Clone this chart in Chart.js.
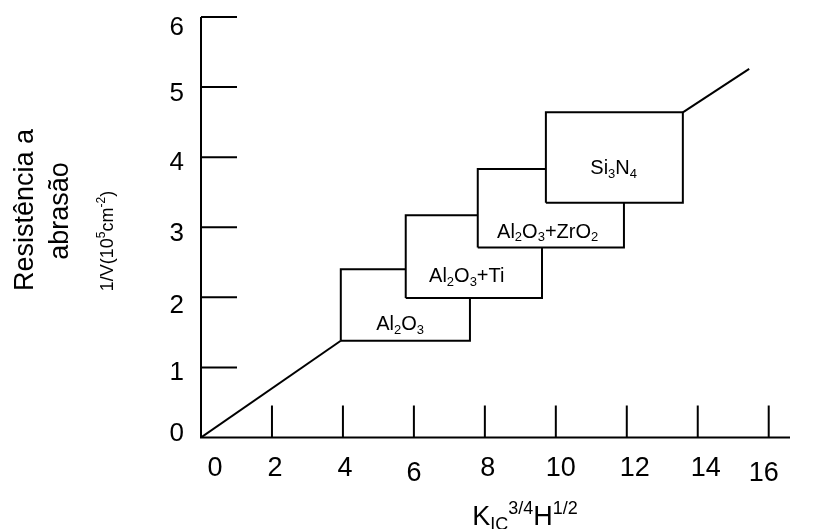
<!DOCTYPE html>
<html lang="pt">
<head>
<meta charset="UTF-8">
<title>Resistência a abrasão</title>
<script src="https://cdn.jsdelivr.net/npm/chart.js"></script>
<style>
  body { margin: 0; background: #fff; }
  .wrap { width: 821px; height: 529px; position: relative; }
</style>
</head>
<body>
<div class="wrap"><canvas id="chart"></canvas></div>
<script>
// --- dados ---
const xTicks = [0, 2, 4, 6, 8, 10, 12, 14, 16];
const yTicks = [0, 1, 2, 3, 4, 5, 6];

// linha de tendência (origem -> Al2O3, Si3N4 -> fim)
const lineLow = [{ x: 0, y: 0 }, { x: 3.94, y: 1.38 }];
const lineHigh = [{ x: 13.58, y: 4.64 }, { x: 15.45, y: 5.26 }];

// caixas dos materiais: [x0, x1, y0, y1]
const materials = ['Al2O3', 'Al2O3+Ti', 'Al2O3+ZrO2', 'Si3N4'];
const boxX0 = [3.94, 5.77, 7.80, 9.72];
const boxX1 = [7.58, 9.61, 11.92, 13.58];
const boxY0 = [1.38, 1.99, 2.71, 3.35];
const boxY1 = [2.40, 3.17, 3.83, 4.64];
// posição do rótulo dentro de cada caixa
const labelX = [5.61, 7.49, 9.77, 11.63];
const labelY = [1.63, 2.32, 2.95, 3.86];

// rótulos com sub/sobrescrito
const richLabels = {
  'Al2O3': [['Al'], ['2', 'sub'], ['O'], ['3', 'sub']],
  'Al2O3+Ti': [['Al'], ['2', 'sub'], ['O'], ['3', 'sub'], ['+Ti']],
  'Al2O3+ZrO2': [['Al'], ['2', 'sub'], ['O'], ['3', 'sub'], ['+ZrO'], ['2', 'sub']],
  'Si3N4': [['Si'], ['3', 'sub'], ['N'], ['4', 'sub']]
};

const FONT = '"Liberation Sans", Arial, sans-serif';
// pequenos desvios dos números dos eixos (como no original)
const xLabelDx = [14, 3, 2, 0, 3, 5, 8, 8, -5];
const xLabelDy = [0, 0, 0, 5, 0, 0, 0, 0, 5];
const yLabelDy = [-4, 5, 8, 7, 6, 7, 11];

function drawRich(ctx, parts, x, y, size, align) {
  const fontOf = k => (k ? Math.round(size * 0.66) : size) + 'px ' + FONT;
  let total = 0;
  parts.forEach(p => { ctx.font = fontOf(p[1]); total += ctx.measureText(p[0]).width; });
  let cx = align === 'left' ? x : x - total / 2;
  ctx.textAlign = 'left';
  ctx.textBaseline = 'alphabetic';
  parts.forEach(p => {
    ctx.font = fontOf(p[1]);
    let dy = 0;
    if (p[1] === 'sub') dy = size * 0.18;
    if (p[1] === 'sup') dy = -size * 0.42;
    ctx.fillText(p[0], cx, y + dy);
    cx += ctx.measureText(p[0]).width;
  });
}

const boxDatasets = materials.map((m, i) => ({
  label: m,
  data: [
    { x: boxX0[i], y: boxY0[i] }, { x: boxX1[i], y: boxY0[i] },
    { x: boxX1[i], y: boxY1[i] }, { x: boxX0[i], y: boxY1[i] },
    { x: boxX0[i], y: boxY0[i] }
  ],
  showLine: true, fill: 'shape', backgroundColor: '#fff',
  borderColor: '#000', borderWidth: 2, pointRadius: 0, tension: 0,
  order: materials.length - i
}));

const axesPlugin = {
  id: 'axesPlugin',
  afterDraw(chart) {
    const ctx = chart.ctx;
    const xs = chart.scales.x, ys = chart.scales.y;
    const x0 = xs.getPixelForValue(0), y0 = ys.getPixelForValue(0);
    ctx.save();
    ctx.strokeStyle = '#000';
    ctx.fillStyle = '#000';
    ctx.lineWidth = 2;

    // eixos
    ctx.beginPath();
    ctx.moveTo(x0, ys.getPixelForValue(6));
    ctx.lineTo(x0, y0);
    ctx.lineTo(xs.right, y0);
    ctx.stroke();

    // marcas do eixo y (para dentro)
    yTicks.forEach(v => {
      if (v === 0) return;
      const py = ys.getPixelForValue(v);
      ctx.beginPath(); ctx.moveTo(x0, py); ctx.lineTo(x0 + 36, py); ctx.stroke();
    });
    // marcas do eixo x (para cima)
    xTicks.forEach(v => {
      if (v === 0) return;
      const px = xs.getPixelForValue(v);
      ctx.beginPath(); ctx.moveTo(px, y0); ctx.lineTo(px, y0 - 32); ctx.stroke();
    });

    // números
    ctx.font = '26px ' + FONT;
    ctx.textBaseline = 'middle';
    ctx.textAlign = 'right';
    yTicks.forEach((v, i) => {
      ctx.fillText(String(v), 184, ys.getPixelForValue(v) + yLabelDy[i]);
    });
    ctx.font = '27px ' + FONT;
    ctx.textAlign = 'center';
    xTicks.forEach((v, i) => {
      ctx.fillText(String(v), xs.getPixelForValue(v) + xLabelDx[i], y0 + 31 + xLabelDy[i]);
    });

    // rótulos das caixas
    materials.forEach((m, i) => {
      drawRich(ctx, richLabels[m], xs.getPixelForValue(labelX[i]), ys.getPixelForValue(labelY[i]) + 7, 20, 'center');
    });

    // título do eixo x
    drawRich(ctx, [['K'], ['IC', 'sub'], ['3/4', 'sup'], ['H'], ['1/2', 'sup']], 525, 525, 27, 'center');

    // título do eixo y (vertical)
    const vText = (parts, bx, cy, size) => {
      ctx.save();
      ctx.translate(bx, cy);
      ctx.rotate(-Math.PI / 2);
      drawRich(ctx, parts, 0, 0, size, 'center');
      ctx.restore();
    };
    vText([['Resistência a']], 33, 210, 27);
    vText([['abrasão']], 68, 211, 27);
    vText([['1/V(10'], ['5', 'sup'], ['cm'], ['-2', 'sup'], [')']], 113, 241, 18);

    ctx.restore();
  }
};

new Chart(document.getElementById('chart'), {
  type: 'scatter',
  data: {
    datasets: [
      { data: lineLow, showLine: true, borderColor: '#000', borderWidth: 2, pointRadius: 0, order: 10 },
      { data: lineHigh, showLine: true, borderColor: '#000', borderWidth: 2, pointRadius: 0, order: 10 },
      ...boxDatasets
    ]
  },
  options: {
    responsive: true, maintainAspectRatio: false, animation: false,
    layout: { padding: { left: 201, right: 31, top: 17, bottom: 91.5 } },
    plugins: { legend: { display: false }, tooltip: { enabled: false } },
    scales: {
      x: { type: 'linear', min: 0, max: 16.6, display: false },
      y: { type: 'linear', min: 0, max: 6, display: false }
    }
  },
  plugins: [axesPlugin]
});
</script>
</body>
</html>
